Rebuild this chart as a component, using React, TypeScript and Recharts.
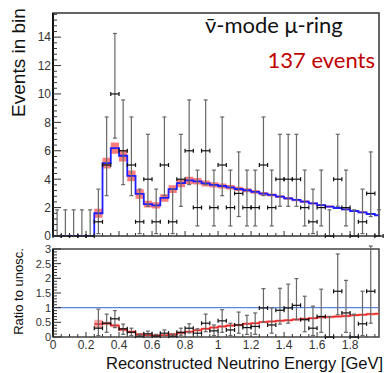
import React from 'react';
import {
  ComposedChart, Line, Area, Scatter, ErrorBar, XAxis, YAxis,
  ReferenceArea, ReferenceLine,
} from 'recharts';

// ---------- data ----------
const binCenters = [
  0.025, 0.075, 0.125, 0.175, 0.225, 0.275, 0.325, 0.375, 0.425, 0.475,
  0.525, 0.575, 0.625, 0.675, 0.725, 0.775, 0.825, 0.875, 0.925, 0.975,
  1.025, 1.075, 1.125, 1.175, 1.225, 1.275, 1.325, 1.375, 1.425, 1.475,
  1.525, 1.575, 1.625, 1.675, 1.725, 1.775, 1.825, 1.875, 1.925, 1.975,
];
const BIN_HALF = 0.025;

const dataCounts = [
  0, 0, 0, 0, 0, 1, 5, 10, 6, 5,
  1, 4, 1, 5, 1, 4, 6, 2, 6, 2,
  5, 2, 3, 2, 2, 5, 2, 4, 4, 4,
  2, 1, 2, 0, 4, 2, 0, 1, 3, 0,
];
const dataErrLow = [
  0, 0, 0, 0, 0, 0.83, 2.16, 3.11, 2.38, 2.16,
  0.83, 1.91, 0.83, 2.16, 0.83, 1.91, 2.38, 1.29, 2.38, 1.29,
  2.16, 1.29, 1.63, 1.29, 1.29, 2.16, 1.29, 1.91, 1.91, 1.91,
  1.29, 0.83, 1.29, 0, 1.91, 1.29, 0, 0.83, 1.63, 0,
];
const dataErrHigh = [
  1.84, 1.84, 1.84, 1.84, 1.84, 2.3, 3.38, 4.26, 3.58, 3.38,
  2.3, 3.16, 2.3, 3.38, 2.3, 3.16, 3.58, 2.64, 3.58, 2.64,
  3.38, 2.64, 2.92, 2.64, 2.64, 3.38, 2.64, 3.16, 3.16, 3.16,
  2.64, 2.3, 2.64, 1.84, 3.16, 2.64, 1.84, 2.3, 2.92, 1.84,
];

const mcPred = [
  0, 0, 0, 0, 0, 1.6, 5.13, 6.19, 5.65, 4.24,
  2.96, 2.24, 2.16, 2.68, 3.3, 3.72, 3.92, 3.85, 3.7, 3.6,
  3.52, 3.43, 3.31, 3.22, 3.1, 2.98, 2.89, 2.77, 2.65, 2.54,
  2.42, 2.3, 2.18, 2.07, 1.97, 1.88, 1.76, 1.67, 1.55, 1.46,
];
const mcErr = [
  0, 0, 0, 0, 0, 0.32, 0.38, 0.4, 0.4, 0.38,
  0.34, 0.24, 0.22, 0.26, 0.28, 0.28, 0.26, 0.23, 0.21, 0.19,
  0.17, 0.16, 0.15, 0.14, 0.13, 0.12, 0.11, 0.1, 0.1, 0.09,
  0.09, 0.08, 0.08, 0.08, 0.07, 0.07, 0.07, 0.07, 0.06, 0.06,
];

const ratioMC = [
  null, null, null, null, null, 0.44, 0.46, 0.39, 0.25, 0.18,
  0.09, 0.06, 0.05, 0.06, 0.09, 0.14, 0.18, 0.23, 0.28, 0.32,
  0.36, 0.39, 0.41, 0.45, 0.47, 0.51, 0.53, 0.55, 0.57, 0.6,
  0.62, 0.64, 0.67, 0.68, 0.7, 0.72, 0.74, 0.76, 0.78, 0.79,
];
const ratioErr = [
  null, null, null, null, null, 0.15, 0.06, 0.06, 0.05, 0.05,
  0.045, 0.045, 0.045, 0.045, 0.045, 0.045, 0.045, 0.045, 0.045, 0.045,
  0.045, 0.045, 0.045, 0.045, 0.045, 0.045, 0.045, 0.045, 0.045, 0.045,
  0.045, 0.045, 0.045, 0.045, 0.045, 0.045, 0.045, 0.045, 0.045, 0.045,
];
const ratioData = [
  null, null, null, null, null, 0.3, 0.47, 0.62, 0.28, 0.16,
  0.03, 0.11, 0.03, 0.13, 0.03, 0.16, 0.3, 0.13, 0.47, 0.21,
  0.55, 0.24, 0.41, 0.32, 0.36, 0.99, 0.41, 0.91, 0.99, 1.08,
  0.59, 0.3, 0.7, 0, 1.56, 0.82, 0, 0.45, 1.56, null,
];
const ratioLow = [
  null, null, null, null, null, 0.05, 0.16, 0.32, 0.09, 0.05,
  0.005, 0.02, 0.005, 0.03, 0.005, 0.06, 0.14, 0.02, 0.18, 0.05,
  0.16, 0.05, 0.13, 0.09, 0.09, 0.5, 0.13, 0.44, 0.47, 0.59,
  0.18, 0.05, 0.16, 0, 0.76, 0.16, 0, 0.05, 0.47, null,
];
const ratioHigh = [
  null, null, null, null, null, 0.95, 0.78, 0.9, 0.44, 0.3,
  0.1, 0.2, 0.09, 0.24, 0.1, 0.3, 0.45, 0.28, 0.78, 0.41,
  0.93, 0.47, 0.85, 0.74, 0.82, 1.65, 0.99, 1.66, 1.8, 1.99,
  1.39, 1.05, 1.63, 0.7, 2.83, 1.93, 0.78, 1.56, 3.1, null,
];

const xLabelValues = [0, 0.2, 0.4, 0.6, 0.8, 1, 1.2, 1.4, 1.6, 1.8];
const xLabelTexts = ['0', '0.2', '0.4', '0.6', '0.8', '1', '1.2', '1.4', '1.6', '1.8'];
const yTopLabelValues = [0, 2, 4, 6, 8, 10, 12, 14];
const yTopLabelTexts = ['0', '2', '4', '6', '8', '10', '12', '14'];
const yRatioLabelValues = [0, 0.5, 1, 1.5, 2, 2.5, 3];
const yRatioLabelTexts = ['0', '0.5', '1', '1.5', '2', '2.5', '3'];

const X_MAX = 1.975;
const Y_TOP_MAX = 15.7;
const Y_RATIO_MAX = 3;

// tick positions (major + minor)
const xTicks = binCenters.map((c) => +(c - BIN_HALF).toFixed(3));
const yTopTicks = Array.from({ length: 40 }, (_, i) => Math.round(i * 4) / 10);
const yRatioTicks = Array.from({ length: 31 }, (_, i) => i / 10);

// ---------- derived series ----------
const lastI = binCenters.length - 1;
const mainStep = binCenters.map((c, i) => ({
  x: +(c - BIN_HALF).toFixed(3),
  mc: mcPred[i],
  band: [mcPred[i] - mcErr[i], mcPred[i] + mcErr[i]],
}));
mainStep.push({
  x: +(binCenters[lastI] + BIN_HALF).toFixed(3),
  mc: mcPred[lastI],
  band: [mcPred[lastI] - mcErr[lastI], mcPred[lastI] + mcErr[lastI]],
});

const mainPoints = binCenters.map((c, i) => ({
  x: c,
  y: dataCounts[i],
  ey: [dataErrLow[i], dataErrHigh[i]],
  ex: BIN_HALF,
}));

const ratioStep: any[] = [];
binCenters.forEach((c, i) => {
  if (ratioMC[i] == null) return;
  ratioStep.push({
    x: +(c - BIN_HALF).toFixed(3),
    r: ratioMC[i],
    band: [ratioMC[i]! - ratioErr[i]!, ratioMC[i]! + ratioErr[i]!],
  });
});
ratioStep.push({
  x: +(binCenters[lastI] + BIN_HALF).toFixed(3),
  r: ratioMC[lastI],
  band: [ratioMC[lastI]! - ratioErr[lastI]!, ratioMC[lastI]! + ratioErr[lastI]!],
});

const ratioPoints: any[] = [];
binCenters.forEach((c, i) => {
  const v = ratioData[i];
  if (v == null) return;
  ratioPoints.push({
    x: c,
    y: v,
    ey: [v - (ratioLow[i] as number), (ratioHigh[i] as number) - v],
    ex: BIN_HALF,
  });
});

// ---------- ticks ----------
const FONT = '"Liberation Sans", Arial, sans-serif';
const near = (a: number, b: number) => Math.abs(a - b) < 1e-6;

const XTick = (props: any) => {
  const { x, y, payload, showLabels, majorLen, minorLen } = props;
  const v = payload.value;
  const idx = xLabelValues.findIndex((m) => near(m, v));
  const isMajor = idx >= 0;
  return (
    <g>
      <line x1={x} x2={x} y1={y} y2={y - (isMajor ? majorLen : minorLen)} stroke="#333" strokeWidth={1} />
      {showLabels && isMajor && (
        <text x={x} y={y + 12} textAnchor="middle" fontSize={12} fill="#333" fontFamily={FONT}>
          {xLabelTexts[idx]}
        </text>
      )}
    </g>
  );
};

const YTick = (props: any) => {
  const { x, y, payload, labelValues, labelTexts, fontSize, majorLen, minorLen } = props;
  const v = payload.value;
  const idx = labelValues.findIndex((m: number) => near(m, v));
  const isMajor = idx >= 0;
  return (
    <g>
      <line x1={x} x2={x + (isMajor ? majorLen : minorLen)} y1={y} y2={y} stroke="#333" strokeWidth={1} />
      {isMajor && (
        <text x={x - 2} y={y + fontSize * 0.36} textAnchor="end" fontSize={fontSize} fill="#333" fontFamily={FONT}>
          {labelTexts[idx]}
        </text>
      )}
    </g>
  );
};

const noShape = () => <g />;

export default function App() {
  return (
    <div style={{ position: 'absolute', left: 0, top: 0, width: 389, height: 373, background: '#fff', overflow: 'hidden' }}>
      {/* top panel */}
      <div style={{ position: 'absolute', left: 0, top: 0 }}>
        <ComposedChart width={389} height={250} margin={{ top: 13, right: 10, left: 0, bottom: 0 }}>
          <XAxis
            type="number" dataKey="x" domain={[0, X_MAX]} allowDataOverflow
            ticks={xTicks} interval={0} tickSize={0} tickMargin={0} tickLine={false} axisLine={false}
            height={14}
            tick={(p: any) => <XTick {...p} showLabels={false} majorLen={5} minorLen={3} />}
          />
          <YAxis
            type="number" domain={[0, Y_TOP_MAX]} allowDataOverflow
            ticks={yTopTicks} interval={0} tickSize={0} tickMargin={0} tickLine={false} axisLine={false}
            width={53}
            tick={(p: any) => (
              <YTick {...p} labelValues={yTopLabelValues} labelTexts={yTopLabelTexts} fontSize={12} majorLen={8} minorLen={4} />
            )}
          />
          <ReferenceArea x1={0} x2={X_MAX} y1={0} y2={Y_TOP_MAX} fill="none" stroke="#333" strokeWidth={1.5} ifOverflow="visible" />
          <ReferenceLine x={0} stroke="#111" strokeWidth={2} ifOverflow="visible" />
          <Area
            data={mainStep} dataKey="band" type="stepAfter" stroke="none"
            fill="#ff4545" fillOpacity={0.7} isAnimationActive={false}
          />
          <Line
            data={mainStep} dataKey="mc" type="stepAfter" stroke="#1f1fff" strokeWidth={1.8}
            dot={false} isAnimationActive={false}
          />
          <Scatter data={mainPoints} dataKey="y" shape={noShape} isAnimationActive={false}>
            <ErrorBar dataKey="ey" direction="y" width={2} stroke="#666" strokeWidth={1.2} />
            <ErrorBar dataKey="ex" direction="x" width={2} stroke="#111" strokeWidth={1.2} />
          </Scatter>
        </ComposedChart>
      </div>

      {/* ratio panel */}
      <div style={{ position: 'absolute', left: 0, top: 240 }}>
        <ComposedChart width={389} height={133} margin={{ top: 9, right: 10, left: 0, bottom: 0 }}>
          <XAxis
            type="number" dataKey="x" domain={[0, X_MAX]} allowDataOverflow
            ticks={xTicks} interval={0} tickSize={0} tickMargin={0} tickLine={false} axisLine={false}
            height={36}
            tick={(p: any) => <XTick {...p} showLabels={true} majorLen={5} minorLen={3} />}
          />
          <YAxis
            type="number" domain={[0, Y_RATIO_MAX]} allowDataOverflow
            ticks={yRatioTicks} interval={0} tickSize={0} tickMargin={0} tickLine={false} axisLine={false}
            width={53}
            tick={(p: any) => (
              <YTick {...p} labelValues={yRatioLabelValues} labelTexts={yRatioLabelTexts} fontSize={11} majorLen={8} minorLen={4} />
            )}
          />
          <ReferenceArea x1={0} x2={X_MAX} y1={0} y2={Y_RATIO_MAX} fill="none" stroke="#444" strokeWidth={1.5} ifOverflow="visible" />
          <ReferenceLine x={0} stroke="#111" strokeWidth={2} ifOverflow="visible" />
          <ReferenceLine y={1} stroke="#5b85d6" strokeWidth={1.3} />
          <Area
            data={ratioStep} dataKey="band" type="stepAfter" stroke="none"
            fill="#ff6a6a" fillOpacity={0.6} isAnimationActive={false}
          />
          <Line
            data={ratioStep} dataKey="r" type="stepAfter" stroke="#ee2a2a" strokeWidth={1.5}
            dot={false} isAnimationActive={false}
          />
          <Scatter data={ratioPoints} dataKey="y" shape={noShape} isAnimationActive={false}>
            <ErrorBar dataKey="ey" direction="y" width={2} stroke="#666" strokeWidth={1.2} />
            <ErrorBar dataKey="ex" direction="x" width={2} stroke="#111" strokeWidth={1.2} />
          </Scatter>
        </ComposedChart>
      </div>

      {/* text overlay */}
      <svg width={389} height={373} style={{ position: 'absolute', left: 0, top: 0, pointerEvents: 'none' }}>
        <text transform="translate(25,62.5) rotate(-90)" textAnchor="middle" fontSize={19} fill="#111" fontFamily={FONT}>
          Events in bin
        </text>
        <text transform="translate(23,291.5) rotate(-90)" textAnchor="middle" fontSize={13} fill="#111" fontFamily={FONT}>
          Ratio to unosc.
        </text>
        <text x={383} y={369} textAnchor="end" fontSize={16.5} fill="#111" fontFamily={FONT}>
          Reconstructed Neutrino Energy [GeV]
        </text>
        <text x={205} y={33} fontSize={22} fill="#111" fontFamily="Lato, 'Open Sans', sans-serif">
          {'\u03BD\u0304-mode \u03BC-ring'}
        </text>
        <text x={375} y={68} textAnchor="end" fontSize={22} fill="#c00000" fontFamily="Lato, 'Open Sans', sans-serif">
          137 events
        </text>
      </svg>
    </div>
  );
}
